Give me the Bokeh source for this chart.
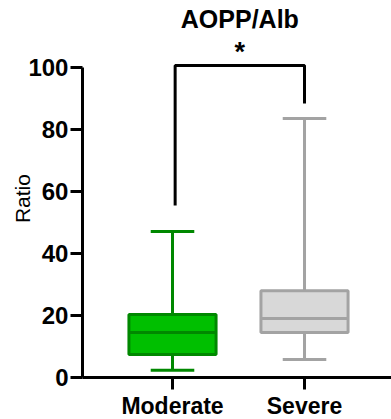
import math
from bokeh.plotting import figure
from bokeh.models import Range1d, FixedTicker, ColumnDataSource
from bokeh.core.properties import value
from bokeh.embed import file_html
from bokeh.resources import INLINE

# ---- data ----
categories = ["Moderate", "Severe"]
whisker_low = [2.3, 5.8]
q1 = [7.4, 14.5]
median = [14.5, 19.0]
q3 = [20.3, 28.0]
whisker_high = [47.1, 83.5]
fill_colors = ["#00bf00", "#d8d8d8"]
line_colors = ["#008800", "#a3a3a3"]
title_text = "AOPP/Alb"
y_label = "Ratio"
sig_label = "*"
bracket_top = 100.6
bracket_left_end = 55.5
bracket_right_end = 88.4
y_ticks = [0, 20, 40, 60, 80, 100]

xs = [i + 1 for i in range(len(categories))]
box_w = 0.66
cap_w = 0.33
x_axis_pos = 0.318      # where the y axis crosses (data units)
x_start, x_end = -0.303, 2.659
y_start, y_end = -13.55, 121.6

src = ColumnDataSource(dict(
    x=xs, lo=whisker_low, q1=q1, med=median, q3=q3, hi=whisker_high,
    fill=fill_colors, line=line_colors,
    bl=[x - box_w / 2 for x in xs], br=[x + box_w / 2 for x in xs],
    cl=[x - cap_w / 2 for x in xs], cr=[x + cap_w / 2 for x in xs],
))

p = figure(width=391, height=419, x_range=Range1d(x_start, x_end), y_range=Range1d(y_start, y_end),
           output_backend="svg", toolbar_location=None,
           min_border_left=0, min_border_right=0, min_border_top=0, min_border_bottom=0)
p.outline_line_color = None
p.grid.visible = False
p.background_fill_color = "white"
p.border_fill_color = "white"

LW = 3
# whiskers
p.segment(x0="x", y0="q3", x1="x", y1="hi", line_color="line", line_width=LW, source=src)
p.segment(x0="x", y0="lo", x1="x", y1="q1", line_color="line", line_width=LW, source=src)
p.segment(x0="cl", y0="hi", x1="cr", y1="hi", line_color="line", line_width=LW, source=src)
p.segment(x0="cl", y0="lo", x1="cr", y1="lo", line_color="line", line_width=LW, source=src)
# boxes
p.vbar(x="x", bottom="q1", top="q3", width=box_w, fill_color="fill", line_color="line",
       line_width=LW, source=src)
p.segment(x0="bl", y0="med", x1="br", y1="med", line_color="line", line_width=LW, source=src)

# significance bracket
bx_left = xs[0] + 0.02
bx_right = xs[1]
p.line(x=[bx_left, bx_left, bx_right, bx_right],
       y=[bracket_left_end, bracket_top, bracket_top, bracket_right_end],
       line_color="black", line_width=LW)
mid = (bx_left + bx_right) / 2
p.text(x=[mid], y=[105.0], text=[sig_label], text_align="center", text_baseline="middle",
       text_font=value("Liberation Sans"), text_font_style="bold", text_font_size="27px",
       text_color="black")
p.text(x=[mid], y=[115.6], text=[title_text], text_align="center", text_baseline="middle",
       text_font=value("Liberation Sans"), text_font_style="bold", text_font_size="25px",
       text_color="black")
# y-axis title
p.text(x=[-0.136], y=[57.7], text=[y_label], angle=math.pi / 2, text_align="center",
       text_baseline="middle", text_font=value("Liberation Sans"), text_font_size="21px",
       text_color="black")

# axes
xa = p.xaxis[0]
ya = p.yaxis[0]
for ax in (xa, ya):
    ax.axis_line_width = LW
    ax.axis_line_color = "black"
    ax.major_tick_line_width = LW
    ax.major_tick_line_color = "black"
    ax.major_tick_out = 12
    ax.major_tick_in = 0
    ax.minor_tick_line_color = None
    ax.major_label_text_font = "Liberation Sans"
    ax.major_label_text_font_style = "bold"
    ax.major_label_text_color = "black"

xa.fixed_location = 0
xa.bounds = (x_axis_pos, x_end)
xa.ticker = FixedTicker(ticks=xs)
xa.major_label_overrides = {x: c for x, c in zip(xs, categories)}
xa.major_label_standoff = 4
xa.major_label_text_font_size = "23px"

ya.fixed_location = x_axis_pos
ya.ticker = FixedTicker(ticks=y_ticks)
ya.bounds = (0, 100)
ya.major_label_standoff = 2
ya.major_label_text_font_size = "24px"

open("out.html", "w").write(file_html(p, INLINE))
